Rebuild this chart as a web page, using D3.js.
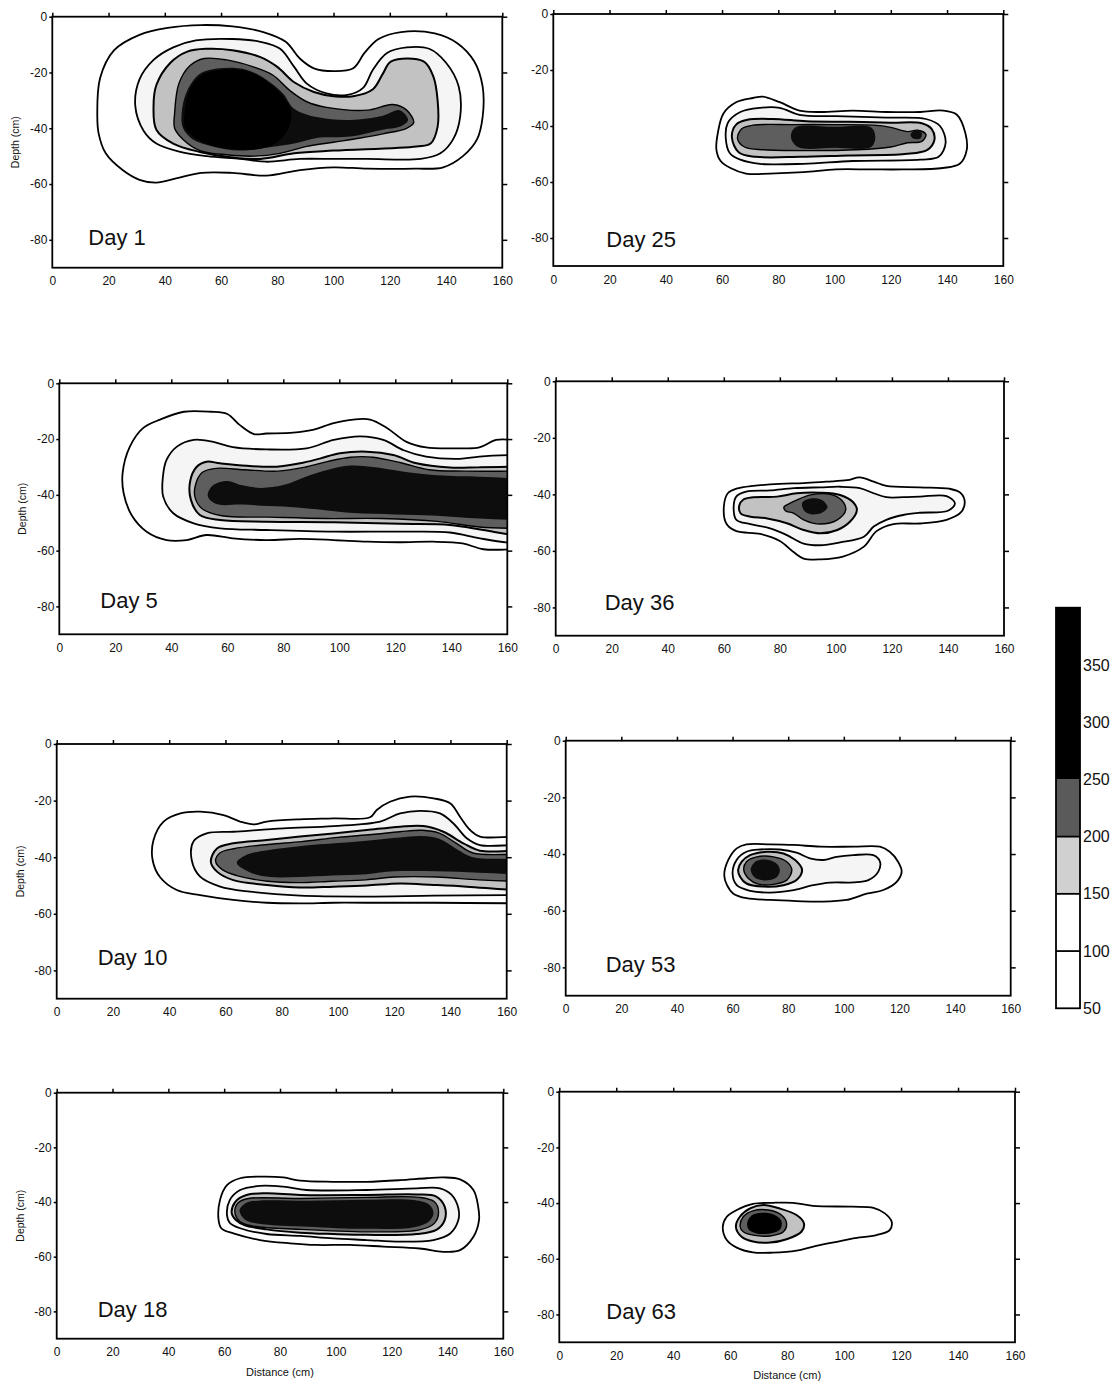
<!DOCTYPE html>
<html><head><meta charset="utf-8">
<script src="https://cdn.jsdelivr.net/npm/d3@7"></script>
<style>
body{margin:0;background:#fff;}
svg{display:block;}
text{font-family:"Liberation Sans",Arial,sans-serif;fill:#111;}
</style>
</head><body>
<svg id="chart" width="1116" height="1384"></svg>
<script>
// ---------------- DATA ----------------
const xTicks = [0, 20, 40, 60, 80, 100, 120, 140, 160];
const yTicks = [0, -20, -40, -60, -80];
const levels = [50, 100, 150, 200, 250, 300];
const colorbarTicks = [50, 100, 150, 200, 250, 300, 350];
const colorbarBands = [[50, 100], [100, 150], [150, 200], [200, 250], [250, 400]];
const colorbarLines = [100, 150, 200];
const dayNames = ["Day 1", "Day 25", "Day 5", "Day 36", "Day 10", "Day 53", "Day 18", "Day 63"];

// contour rings: [distance (cm), depth (cm)]
const day1 = [
 {level:50, pts:[[16,-36],[17,-22],[22,-12],[31,-6.5],[41,-4],[53,-3],[64,-3.5],[75,-5.5],[83,-9],[88,-15],[93,-18.5],[100,-19.5],[107,-18.5],[111,-13],[116,-8],[124,-5.5],[136,-6],[144,-9.5],[150,-16],[153,-25],[153,-36],[151,-44],[146,-50],[139,-54],[129,-54.5],[112,-54.5],[100,-54],[88,-55],[76,-57],[64,-56],[53,-56],[44,-58],[37,-59.5],[31,-58.5],[25,-55],[19,-49],[16.5,-42]]},
 {level:100, pts:[[29.5,-32],[31,-22.5],[36,-15.5],[43,-11],[51,-8.5],[64,-8],[74,-9],[81,-11.5],[86,-18],[90.5,-24],[97.5,-27.5],[105,-28],[110.5,-25.5],[114,-19],[119,-13],[126,-11],[134,-11.5],[140,-16.5],[144.5,-25],[145,-36],[142.5,-44],[138,-49],[131,-51],[112,-51],[100,-51],[88,-51],[76,-52],[67,-51],[55,-50],[45.5,-48.5],[37,-45.5],[32.5,-41]]},
 {level:150, pts:[[36,-32],[37,-24.5],[42,-16.5],[48,-12.5],[55,-11.5],[64,-12],[74,-14.5],[80,-18],[86,-23.5],[93,-27],[100,-28.5],[107,-28.5],[114,-26],[117.5,-20.5],[120.5,-16],[132,-16],[135.5,-21.5],[137,-30],[137,-39.5],[134.5,-45.5],[129.5,-46.5],[100,-48],[86,-49],[74,-51],[64,-50.5],[52.5,-48.5],[43,-45.5],[37,-40.5]]},
 {level:200, pts:[[43.5,-34.5],[45,-24],[49,-17.5],[54,-15],[62,-15.5],[71.5,-18],[78.5,-21],[84.5,-26.5],[90.5,-30.5],[97.5,-32.5],[112,-33.5],[121,-31.5],[126,-33.5],[128.5,-38],[126,-40],[117.5,-42],[109.5,-43.5],[100,-45],[90.5,-46.5],[81,-49],[71.5,-50],[62,-49.5],[52.5,-48],[46.5,-44],[43.5,-40]]},
 {level:250, pts:[[46,-34.5],[48,-26.5],[52.5,-20.5],[59.5,-18.5],[69,-19],[76,-22.5],[82,-27.5],[86,-33],[94,-36],[106,-37],[117.5,-35.5],[123.5,-33.5],[126.5,-37],[123.5,-39.5],[117.5,-40.5],[106,-43],[94,-43.5],[86,-45.5],[76,-47],[66.5,-48],[57,-46.5],[50,-44],[46.5,-40]]},
 {level:300, pts:[[47,-35],[48.5,-27],[53,-21],[60,-19],[69,-19.5],[76,-23],[82,-28.5],[85,-34],[84,-40],[80,-45],[73,-47.5],[64,-47.5],[56,-46],[50,-43],[47,-39.5]]}
];
const day25 = [
 {level:50, pts:[[58,-48.5],[58.5,-42.5],[60.5,-35.5],[65,-31.5],[71,-30],[74.5,-29.5],[80.5,-31.5],[87.5,-34.5],[95,-35],[106.5,-34.5],[118.5,-35],[130.5,-35],[138.5,-34.5],[143.5,-36],[146.5,-42.5],[147,-48.5],[144.5,-53.5],[138.5,-55],[124.5,-55.5],[112.5,-55.5],[100.5,-55.5],[89,-56.5],[77,-57],[68.5,-57],[63,-55],[59.5,-52.5]]},
 {level:100, pts:[[61.5,-46],[62,-39],[66.5,-35],[73.5,-33.5],[80.5,-33.5],[87.5,-36],[100.5,-36.5],[118.5,-37],[132.5,-37.5],[137.5,-40],[139.5,-46],[137,-51],[130.5,-52],[106.5,-52.5],[89,-53.5],[73.5,-53.5],[66.5,-52],[63,-50]]},
 {level:150, pts:[[63.5,-44],[65,-39.5],[69,-37.8],[78,-37.5],[90,-38.3],[105,-38.5],[120,-38.8],[131,-39],[134.5,-41],[135.5,-45],[133,-48.5],[125,-50],[105,-50.5],[88,-51],[72,-51],[66,-49.5]]},
 {level:200, pts:[[65.5,-44.5],[67,-41],[71,-39.7],[85,-39.5],[100,-39.5],[114,-39.7],[120,-40.5],[126,-42],[129.5,-41.5],[132.5,-43],[131,-45.5],[126,-46],[120,-47.5],[108,-48.5],[90,-48.8],[75,-48.5],[68,-47.5]]},
 {level:250, pts:[[84.5,-44],[86,-40.5],[100,-40.3],[113,-40.5],[114.5,-44],[113,-47.5],[100,-47.8],[87,-47.5]]},
 {level:250, pts:[[127,-43],[129,-41.5],[131,-42.5],[130.5,-44.5],[128,-44.5]]}
];
const day5 = [
 {level:50, pts:[[163,-20.3],[156,-20.3],[150,-23],[143,-23.3],[131,-23],[124,-21],[117,-16],[111,-13],[105,-13],[98,-14.3],[90.5,-16.7],[83.5,-17.7],[74,-18],[69.5,-18.2],[64.5,-15],[60,-11],[54,-10.2],[44.5,-10.2],[36,-13],[30,-16],[25.2,-22.7],[22.6,-32.3],[23,-39.5],[25.8,-47.2],[31.2,-53.2],[38.3,-56.2],[45.5,-56.2],[52.6,-54.4],[62,-55.6],[74,-56.2],[86,-55.8],[98,-56.2],[110,-56.8],[122,-57],[133.5,-56.8],[144,-57.4],[151.5,-59.5],[163,-59.5],[175,-59.5],[175,-20.3]]},
 {level:100, pts:[[163,-25.7],[150,-26.3],[143,-27.1],[131,-26.3],[123,-24],[115.7,-20.3],[107.5,-19],[98,-20.3],[88.3,-23.3],[74,-23.7],[62,-22.9],[55,-21],[48,-20.3],[42,-22.7],[38.3,-27.5],[37,-33.5],[37.1,-40.6],[40.7,-46.6],[48,-50.2],[57.4,-52],[74,-52.6],[98,-53.2],[121.7,-53.2],[139.5,-53.5],[150.2,-55.6],[163,-57.4],[175,-57.4],[175,-25.7]]},
 {level:150, pts:[[163,-29.9],[150,-30.1],[139.5,-30.2],[127.6,-28.7],[119.3,-25.7],[109.8,-24.5],[100.2,-25.1],[93,-27],[86,-28.7],[77.6,-29.9],[67,-29.6],[57.4,-28.7],[52.6,-28.1],[49,-30],[46.7,-35.3],[47,-41.8],[50.2,-47.2],[57.4,-49],[74,-49.6],[98,-49.8],[121.7,-50.4],[139.5,-50.8],[151.4,-52.6],[163,-54.4],[175,-54.4],[175,-29.9]]},
 {level:200, pts:[[48.5,-37],[51,-32],[56,-30.5],[66,-31],[78,-31.5],[88,-30],[96,-28],[104,-26.5],[112,-26.5],[122,-28.5],[132,-31],[145,-31.5],[163,-31.5],[175,-31.5],[175,-52],[163,-52],[150,-51.5],[135,-49.5],[115,-48.5],[95,-48.5],[75,-48],[58,-47.5],[51,-45],[48.5,-41]]},
 {level:250, pts:[[53,-40],[55,-36.5],[60,-35],[65,-36.5],[72,-37.5],[80,-36.5],[88,-33.5],[96,-31],[104,-29.5],[112,-30],[122,-31.5],[135,-33],[150,-33.5],[163,-34],[175,-34],[175,-49],[163,-49],[150,-48.5],[135,-47.5],[120,-47],[105,-46.5],[95,-45.5],[85,-44.5],[75,-44],[65,-43.5],[57,-43.5],[54,-42]]}
];
const day36 = [
 {level:50, pts:[[60,-44.5],[61.5,-39.5],[64.5,-38],[70.5,-37],[80,-36.3],[88.5,-36],[96.5,-35.5],[104,-35],[108.5,-34],[113.5,-35.5],[118,-37],[130,-37.5],[140.5,-38],[144.5,-39.5],[146,-43],[144.5,-46.5],[139.5,-49],[130,-50.3],[120.5,-50.5],[114.5,-53],[110,-58.5],[102.5,-62],[94.5,-63],[88.5,-62.7],[85,-60.5],[80,-56.5],[73,-54],[64.5,-53],[61,-50.5]]},
 {level:100, pts:[[63.5,-44.5],[64.5,-40.7],[68,-39],[76.5,-38.6],[85,-37.8],[94.5,-37.5],[101.5,-37.3],[108.5,-37.8],[113.5,-39.6],[118,-41],[124,-41],[130,-40.8],[139.5,-40.6],[142.5,-43.2],[140,-45.8],[130,-46.5],[124,-47.3],[118,-49],[113.5,-51.4],[110,-55],[101.5,-57],[94.5,-58],[88.5,-57.4],[82.5,-54.4],[76.5,-52],[69.5,-50.5],[64.5,-49]]},
 {level:150, pts:[[65.5,-44],[67,-41.8],[70.5,-41],[79,-40.8],[86,-39.6],[94.5,-39.4],[101.5,-40.2],[106,-42.6],[107.5,-45.5],[105,-49.7],[100.5,-52.6],[94.5,-53.8],[88.5,-52.6],[82.5,-50.2],[75.5,-48.5],[69.5,-47.9],[66,-46.7]]},
 {level:200, pts:[[81.5,-44.4],[83.5,-43.2],[86,-42],[91,-40.2],[98,-40],[102,-42],[103.5,-45.5],[100.5,-49],[94.5,-50.5],[88.5,-49],[85,-46.7],[82,-45.8]]},
 {level:250, pts:[[88,-43],[91,-41.5],[95,-42],[97,-44.5],[95,-46.5],[91,-47],[88.5,-45.5]]}
];
const day10 = [
 {level:50, pts:[[163,-32.7],[150.5,-32.7],[147,-30.4],[143.4,-25.7],[140,-21],[134,-19.2],[125.6,-18.6],[118.5,-20.4],[113.8,-23.3],[111.4,-25.9],[98.4,-26.3],[86.5,-26.6],[74.7,-27.4],[70,-28.4],[65.2,-27.4],[59.3,-25.1],[51,-23.9],[44,-24.5],[38,-27.4],[34.4,-34],[34.1,-41],[36.7,-47],[42.7,-51.6],[51,-53.4],[62.8,-55.1],[74.7,-56.1],[86.5,-56.3],[98.4,-56.1],[110.2,-56.1],[134,-56.1],[163,-56.3],[175,-56.3],[175,-32.7]]},
 {level:100, pts:[[163,-35.7],[150.5,-35.7],[145.8,-33.3],[141,-28],[136.3,-24.5],[129.2,-23.6],[122.1,-24.5],[115,-27.4],[98.4,-29],[80.6,-29.8],[62.8,-31],[53.3,-31.6],[48.6,-34.5],[48,-41],[51,-46.9],[58.1,-50.4],[68.7,-52.2],[86.5,-53.6],[110.2,-53.9],[134,-53.6],[163,-53.4],[175,-53.4],[175,-35.7]]},
 {level:150, pts:[[163,-37.7],[150.5,-37.7],[144.6,-35.1],[137.5,-31],[130.4,-29],[122.1,-29.2],[110.2,-30.4],[98.4,-31.6],[86.5,-32.7],[74.7,-33.9],[62.8,-35.1],[57,-36.9],[54.8,-41.6],[57,-45.1],[62.8,-48.1],[74.7,-49.8],[86.5,-50.7],[98.4,-50.4],[110.2,-50],[122.1,-49.3],[134,-49.8],[145.8,-50.4],[163,-51.6],[175,-51.6],[175,-37.7]]},
 {level:200, pts:[[56.5,-41.5],[58,-38.5],[63,-37],[75,-35.5],[87,-34.5],[100,-33],[112,-32],[122,-31],[130,-30.5],[136,-31.5],[142,-35],[148,-38.5],[163,-39],[175,-39],[175,-48.5],[163,-48.5],[150,-48],[135,-47],[120,-47],[110,-48],[98,-48.5],[86,-49],[75,-48.5],[64,-46.5],[59,-44.5]]},
 {level:250, pts:[[64,-42],[68,-39],[75,-37.5],[87,-36],[100,-35],[112,-34],[122,-33],[130,-32.5],[136,-33.5],[142,-37],[148,-40],[163,-40.5],[175,-40.5],[175,-46],[163,-46],[150,-45.5],[135,-45],[120,-45],[110,-46],[98,-46.5],[86,-47],[76,-47],[69,-45.5]]}
];
const day53 = [
 {level:50, pts:[[57,-47.4],[58.5,-42],[61.5,-38],[65,-36.6],[73.5,-36.6],[82,-36.8],[91.5,-37.4],[103.5,-37.4],[113,-37.4],[116.5,-39.2],[119.5,-42.7],[120.8,-46.2],[119,-49.8],[114.2,-52.7],[108.2,-54],[101,-56.2],[91.5,-56.8],[83,-56.6],[73.5,-56.2],[65,-55.6],[60.3,-54],[58,-51]]},
 {level:100, pts:[[60,-46.8],[61.5,-42],[65,-39.2],[70,-38.4],[77,-38.4],[83,-39.5],[87.8,-41.5],[92.6,-42.1],[97.4,-41],[103.4,-40.4],[110.6,-40.4],[113,-42.7],[112.4,-46.2],[108.8,-49.2],[103.4,-50],[95,-50.1],[89,-51],[82,-52.7],[73.5,-53.6],[66.3,-53],[61.5,-51]]},
 {level:150, pts:[[62,-45.6],[63.3,-42.7],[66.3,-40.4],[72.3,-39.2],[78.3,-39.8],[82.5,-42.1],[85,-45.6],[83,-49.2],[78.3,-51],[71,-51.5],[65,-50.4],[62.7,-48]]},
 {level:200, pts:[[64,-45.4],[65,-42.7],[68.7,-41],[74.7,-41],[79.5,-42.7],[81.3,-45.6],[79.5,-49.2],[74.7,-50.7],[69.3,-50.6],[65.7,-48.6]]},
 {level:250, pts:[[66.5,-45.5],[68.5,-42.5],[72.5,-42],[76,-43.5],[77,-46],[75.5,-48.5],[71.5,-49.3],[68,-48.3]]}
];
const day18 = [
 {level:50, pts:[[58,-46.6],[58.5,-39.3],[61,-33.8],[65.7,-31.3],[72.8,-30.7],[81.2,-31],[87.2,-32.2],[99,-32.6],[111,-32.6],[123,-32],[132.5,-31.3],[138.5,-31],[144.5,-31.7],[149.3,-35.6],[151,-41.7],[151.3,-46.6],[149.3,-52.7],[144.5,-57.6],[138.5,-58.2],[130,-57],[117,-56.3],[105,-55.7],[93,-55.7],[83.6,-55.1],[72.8,-53.9],[63.3,-51.5],[59,-49.6]]},
 {level:100, pts:[[61,-44.8],[62,-39.3],[65.7,-35.6],[72.8,-34.1],[81.2,-34.4],[89.6,-35.6],[111,-35.6],[129,-35],[137.3,-35],[141.5,-37.4],[143.9,-42.3],[143.9,-46.6],[141,-51.5],[135,-53.9],[123,-54.5],[111,-53.9],[99,-53.3],[87.2,-52.4],[75.2,-51.7],[65.7,-49.6],[62,-47.6]]},
 {level:150, pts:[[62.7,-44.1],[64,-39.9],[68,-37.4],[75.2,-36.8],[87.2,-37.4],[111,-37.4],[129,-37.2],[136,-38],[139,-41.7],[139,-46.6],[136,-50.2],[129,-51.7],[111,-52],[99,-51.7],[87.2,-51.2],[75.2,-50],[67.2,-48.4],[64.2,-46.6]]},
 {level:200, pts:[[63.8,-43.5],[65.1,-40.2],[68.7,-38.7],[87.2,-38.7],[111,-38.3],[130,-38.3],[135.3,-39.9],[136.8,-43.5],[135.3,-47.8],[130,-50.2],[111,-50.9],[87.2,-50],[70.4,-48.8],[65.7,-47.2]]},
 {level:250, pts:[[65.5,-43],[67.5,-40.5],[72,-39.5],[90,-39.5],[111,-39.2],[128,-39.3],[133.5,-41],[135,-44],[133.5,-47],[128,-49.2],[111,-49.8],[90,-49],[73,-48],[67.5,-46.5]]}
];
const day63 = [
 {level:50, pts:[[57.4,-48.5],[58.8,-44.9],[62.3,-42.5],[68,-40.3],[75,-39.9],[82,-39.9],[89,-41],[103,-41.3],[110.3,-41.7],[114.3,-43.7],[116.7,-46.7],[116,-49.7],[111.4,-51.5],[103.2,-52.7],[97.4,-53.9],[89.2,-55.6],[83.3,-57.1],[75,-57.8],[68,-57.7],[62.3,-56],[58.8,-53.3]]},
 {level:150, pts:[[62,-48.5],[63.4,-44.9],[67,-41.9],[71.6,-40.7],[77.5,-42],[83.3,-44.3],[85.9,-47.3],[85,-50.3],[79.8,-53],[74,-54.2],[68,-53.8],[64,-52.1]]},
 {level:200, pts:[[63.5,-48.5],[64.6,-44.9],[68,-42.8],[73.4,-42.5],[78,-44.3],[79.8,-47.3],[78.7,-50.3],[74,-51.8],[68,-51.5],[64.6,-50.3]]},
 {level:300, pts:[[66,-47],[67.5,-44.5],[71,-43.5],[75.5,-44.2],[78,-46.5],[77.5,-49.5],[73.5,-51],[69,-50.8],[66.5,-49.5]]}
];
const panelRings = [day1, day25, day5, day36, day10, day53, day18, day63];

// ---------------- LAYOUT / STYLE ----------------
const layout = [
 {x0:52.3, x1:502.3, y0:16.7, y1:267.7, ldx:36, ldy:228, yTitle:true,  xTitle:false},
 {x0:553.3,x1:1003.3,y0:14,   y1:266,   ldx:53, ldy:233, yTitle:false, xTitle:false},
 {x0:59.3, x1:507.3, y0:383.3,y1:634.3, ldx:41, ldy:225, yTitle:true,  xTitle:false},
 {x0:555.7,x1:1004,  y0:381.3,y1:635.7, ldx:49, ldy:229, yTitle:false, xTitle:false},
 {x0:56.7, x1:506.7, y0:744,  y1:998.7, ldx:41, ldy:221, yTitle:true,  xTitle:false},
 {x0:565.7,x1:1010.7,y0:740.7,y1:995.7, ldx:40, ldy:231, yTitle:false, xTitle:false},
 {x0:56.7, x1:503.3, y0:1092.7,y1:1338.7,ldx:41, ldy:224, yTitle:true,  xTitle:true},
 {x0:559.3,x1:1015,  y0:1091.7,y1:1342.3,ldx:47, ldy:227, yTitle:false, xTitle:true}
];
const fillOf = {50:"#ffffff",100:"#f5f5f5",150:"#c2c2c2",200:"#5e5e5e",250:"#0d0d0d",300:"#000000"};
const strokeOf = {50:1.8,100:1.8,150:2,200:1.4,250:0,300:0};
const bandFill = ["#ffffff","#ffffff","#d0d0d0","#5a5a5a","#000000"];

const svg = d3.select("#chart");
const lineGen = d3.line().curve(d3.curveCatmullRomClosed.alpha(0.5));
const fmt = d => String(d);

layout.forEach((L, i) => {
  const w = L.x1 - L.x0, h = L.y1 - L.y0;
  const x = d3.scaleLinear().domain([0, 160]).range([0, w]);
  const y = d3.scaleLinear().domain([0, -90]).range([0, h]);
  const g = svg.append("g").attr("transform", `translate(${L.x0},${L.y0})`);
  const cid = "clip" + i;
  g.append("clipPath").attr("id", cid).append("rect").attr("width", w).attr("height", h);
  const plot = g.append("g").attr("clip-path", `url(#${cid})`);
  const rings = panelRings[i].slice().sort((a, b) => a.level - b.level);
  plot.selectAll("path.ring").data(rings).join("path")
    .attr("class", "ring")
    .attr("d", d => lineGen(d.pts.map(p => [x(p[0]), y(p[1])])))
    .attr("fill", d => fillOf[d.level])
    .attr("stroke", d => strokeOf[d.level] > 0 ? "#000" : "none")
    .attr("stroke-width", d => strokeOf[d.level])
    .attr("stroke-linejoin", "round");

  // axes
  const left = g.append("g").call(d3.axisLeft(y).tickValues(yTicks).tickSize(3).tickPadding(2).tickFormat(fmt));
  const bottom = g.append("g").attr("transform", `translate(0,${h})`)
    .call(d3.axisBottom(x).tickValues(xTicks).tickSize(0).tickPadding(9).tickFormat(fmt));
  const top = g.append("g").call(d3.axisTop(x).tickValues(xTicks).tickSize(4).tickFormat(""));
  const right = g.append("g").attr("transform", `translate(${w},0)`).call(d3.axisRight(y).tickValues(yTicks).tickSize(5).tickFormat(""));
  [left, bottom, top, right].forEach(a => {
    a.select(".domain").remove();
    a.selectAll("line").attr("stroke", "#000").attr("stroke-width", 1.5);
    a.selectAll("text").attr("font-size", 12).attr("font-family", "Liberation Sans, Arial, sans-serif").attr("fill", "#000");
  });
  g.append("rect").attr("width", w).attr("height", h).attr("fill", "none").attr("stroke", "#000").attr("stroke-width", 1.8);

  g.append("text").attr("x", L.ldx).attr("y", L.ldy).attr("font-size", 22).attr("fill", "#000").text(dayNames[i]);
  if (L.yTitle) {
    g.append("text").attr("transform", `translate(${-33},${h / 2}) rotate(-90)`)
      .attr("text-anchor", "middle").attr("font-size", 10.5).attr("fill", "#000").text("Depth (cm)");
  }
  if (L.xTitle) {
    g.append("text").attr("x", w / 2).attr("y", h + 37).attr("text-anchor", "middle")
      .attr("font-size", 11).attr("fill", "#000").text("Distance (cm)");
  }
});

// colorbar
const cb = {x: 1056, w: 24, top: 607.7, bottom: 1008.3};
const cy = d3.scaleLinear().domain([50, 400]).range([cb.bottom, cb.top]);
const cg = svg.append("g");
cg.selectAll("rect.band").data(colorbarBands).join("rect").attr("class", "band")
  .attr("x", cb.x).attr("width", cb.w)
  .attr("y", d => cy(d[1])).attr("height", d => cy(d[0]) - cy(d[1]))
  .attr("fill", (d, i) => bandFill[i]);
cg.selectAll("line.cl").data(colorbarLines).join("line").attr("class", "cl")
  .attr("x1", cb.x).attr("x2", cb.x + cb.w).attr("y1", d => cy(d)).attr("y2", d => cy(d))
  .attr("stroke", "#000").attr("stroke-width", 1.8);
cg.append("rect").attr("x", cb.x).attr("y", cb.top).attr("width", cb.w).attr("height", cb.bottom - cb.top)
  .attr("fill", "none").attr("stroke", "#000").attr("stroke-width", 1.8);
const cax = cg.append("g").attr("transform", `translate(${cb.x + cb.w},0)`)
  .call(d3.axisRight(cy).tickValues(colorbarTicks).tickSize(0).tickPadding(3).tickFormat(fmt));
cax.select(".domain").remove();
cax.selectAll("text").attr("font-size", 16).attr("font-family", "Liberation Sans, Arial, sans-serif").attr("fill", "#000");
</script>
</body></html>
